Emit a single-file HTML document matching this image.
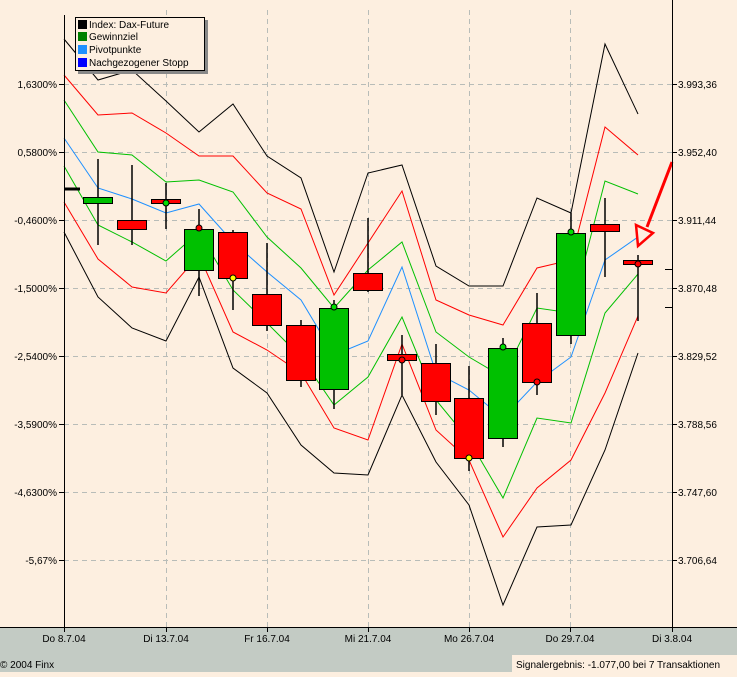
<!DOCTYPE html>
<html><head><meta charset="utf-8"><style>
body{margin:0;width:737px;height:672px;overflow:hidden;background:#fdefe0;font-family:"Liberation Sans",sans-serif}
</style></head><body>
<svg width="737" height="672" xmlns="http://www.w3.org/2000/svg" font-family="Liberation Sans, sans-serif" font-size="10">
<rect x="0" y="0" width="737" height="672" fill="#fdefe0"/>
<rect x="0" y="628" width="737" height="44" fill="#c3cbc4"/>
<g stroke="#b8bcb8" stroke-dasharray="5,4" stroke-width="1">
<line x1="64" x2="672" y1="84.5" y2="84.5"/><line x1="64" x2="672" y1="152.5" y2="152.5"/>
<line x1="64" x2="672" y1="220.5" y2="220.5"/><line x1="64" x2="672" y1="288.5" y2="288.5"/>
<line x1="64" x2="672" y1="356.5" y2="356.5"/><line x1="64" x2="672" y1="424.5" y2="424.5"/>
<line x1="64" x2="672" y1="492.5" y2="492.5"/><line x1="64" x2="672" y1="560.5" y2="560.5"/>
<line x1="166.5" x2="166.5" y1="10" y2="627"/><line x1="267.5" x2="267.5" y1="10" y2="627"/>
<line x1="368.5" x2="368.5" y1="10" y2="627"/><line x1="469.5" x2="469.5" y1="10" y2="627"/>
<line x1="570.5" x2="570.5" y1="10" y2="627"/>
</g>
<g fill="none" stroke-width="1">
<polyline stroke="#000" points="64,39 98,80 132,70 166,101 199,132 233,104 267,156 301,178 334,272 368,173 402,165 436,266 469,286 503,286 537,198 571,213 605,44 638,114"/>
<polyline stroke="#f00" points="64,75 98,115 132,113 166,133 199,156 233,156 267,193 301,209 334,295 368,243 402,191 436,300 469,315 503,325 537,268 571,260 605,127 638,155"/>
<polyline stroke="#00c000" points="64,100 98,152 132,155 166,182 199,180 233,192 267,237 301,268 334,308 368,270 402,242 436,332 469,357 503,377 537,308 571,313 605,181 638,194"/>
<polyline stroke="#1e90ff" points="64,138 98,188 132,199 166,213 199,204 233,242 267,272 301,300 334,355 368,341 402,267 436,373 469,390 503,418 537,382 571,357 605,260 638,237"/>
<polyline stroke="#00c000" points="64,166 98,225 132,242 166,261 199,232 233,290 267,323 301,357 334,405 368,377 402,317 436,400 469,440 503,498 537,418 571,423 605,313 638,274"/>
<polyline stroke="#f00" points="64,202 98,259 132,287 166,293 199,255 233,332 267,350 301,373 334,428 368,440 402,344 436,430 469,460 503,537 537,488 571,460 605,393 638,316"/>
<polyline stroke="#000" points="64,232 98,297 132,328 166,341 199,277 233,368 267,393 301,445 334,473 368,475 402,395 436,462 469,505 503,605 537,527 571,525 605,450 638,353"/>
</g>
<g stroke="#000" stroke-width="1.5">
<line x1="64" x2="80" y1="189" y2="189" stroke-width="3"/>
<line x1="98" x2="98" y1="159" y2="245"/><line x1="132" x2="132" y1="165" y2="245"/>
<line x1="166" x2="166" y1="183" y2="229"/><line x1="199" x2="199" y1="209" y2="296"/>
<line x1="233" x2="233" y1="230" y2="310"/><line x1="267" x2="267" y1="243" y2="331"/>
<line x1="301" x2="301" y1="320" y2="387"/><line x1="334" x2="334" y1="300" y2="409"/>
<line x1="368" x2="368" y1="218" y2="292"/><line x1="402" x2="402" y1="335" y2="395"/>
<line x1="436" x2="436" y1="344" y2="415"/><line x1="469" x2="469" y1="366" y2="471"/>
<line x1="503" x2="503" y1="338" y2="447"/><line x1="537" x2="537" y1="293" y2="395"/>
<line x1="571" x2="571" y1="213" y2="344"/><line x1="605" x2="605" y1="198" y2="277"/>
<line x1="638" x2="638" y1="255" y2="321"/>
</g>
<g stroke="#000" stroke-width="1">
<rect x="83.5" y="197.5" width="29" height="6" fill="#00c000"/>
<rect x="117.5" y="220.5" width="29" height="9" fill="#f00"/>
<rect x="151.5" y="199.5" width="29" height="4" fill="#f00"/>
<rect x="184.5" y="229.5" width="29" height="41" fill="#00c000"/>
<rect x="218.5" y="232.5" width="29" height="46" fill="#f00"/>
<rect x="252.5" y="294.5" width="29" height="31" fill="#f00"/>
<rect x="286.5" y="325.5" width="29" height="55" fill="#f00"/>
<rect x="319.5" y="308.5" width="29" height="81" fill="#00c000"/>
<rect x="353.5" y="273.5" width="29" height="17" fill="#f00"/>
<rect x="387.5" y="354.5" width="29" height="6" fill="#f00"/>
<rect x="421.5" y="363.5" width="29" height="38" fill="#f00"/>
<rect x="454.5" y="398.5" width="29" height="60" fill="#f00"/>
<rect x="488.5" y="348.5" width="29" height="90" fill="#00c000"/>
<rect x="522.5" y="323.5" width="29" height="59" fill="#f00"/>
<rect x="556.5" y="233.5" width="29" height="102" fill="#00c000"/>
<rect x="590.5" y="224.5" width="29" height="7" fill="#f00"/>
<rect x="623.5" y="260.5" width="29" height="4" fill="#f00"/>
<circle cx="166" cy="203" r="3" fill="#00e000"/>
<circle cx="199" cy="228" r="3" fill="#f00"/>
<circle cx="233" cy="278" r="3" fill="#ff0"/>
<circle cx="334" cy="307" r="3" fill="#00e000"/>
<circle cx="402" cy="360" r="3" fill="#f00"/>
<circle cx="469" cy="458" r="3" fill="#ff0"/>
<circle cx="503" cy="347" r="3" fill="#00e000"/>
<circle cx="537" cy="382" r="3" fill="#f00"/>
<circle cx="571" cy="232" r="3" fill="#00e000"/>
<circle cx="638" cy="264" r="3" fill="#f00"/>
</g>
<line x1="672" y1="162" x2="647" y2="227" stroke="#f00" stroke-width="3"/>
<polygon points="636,225 653,233 638,246" fill="none" stroke="#f00" stroke-width="2.5"/>
<line x1="64.5" y1="15" x2="64.5" y2="628" stroke="#000"/>
<line x1="672.5" y1="0" x2="672.5" y2="628" stroke="#000"/>
<line x1="0" y1="627.5" x2="737" y2="627.5" stroke="#000"/>
<g stroke="#000">
<line x1="59" x2="64" y1="84.5" y2="84.5"/><line x1="59" x2="64" y1="152.5" y2="152.5"/><line x1="59" x2="64" y1="220.5" y2="220.5"/><line x1="59" x2="64" y1="288.5" y2="288.5"/><line x1="59" x2="64" y1="356.5" y2="356.5"/><line x1="59" x2="64" y1="424.5" y2="424.5"/><line x1="59" x2="64" y1="492.5" y2="492.5"/><line x1="59" x2="64" y1="560.5" y2="560.5"/>
<line x1="672" x2="677" y1="84.5" y2="84.5"/><line x1="672" x2="677" y1="152.5" y2="152.5"/><line x1="672" x2="677" y1="220.5" y2="220.5"/><line x1="672" x2="677" y1="288.5" y2="288.5"/><line x1="672" x2="677" y1="356.5" y2="356.5"/><line x1="672" x2="677" y1="424.5" y2="424.5"/><line x1="672" x2="677" y1="492.5" y2="492.5"/><line x1="672" x2="677" y1="560.5" y2="560.5"/>
<line x1="665" x2="672" y1="269.5" y2="269.5"/><line x1="665" x2="672" y1="307.5" y2="307.5"/>
<line x1="64.5" x2="64.5" y1="628" y2="632"/><line x1="166.5" x2="166.5" y1="628" y2="632"/><line x1="267.5" x2="267.5" y1="628" y2="632"/><line x1="368.5" x2="368.5" y1="628" y2="632"/><line x1="469.5" x2="469.5" y1="628" y2="632"/><line x1="570.5" x2="570.5" y1="628" y2="632"/><line x1="672.5" x2="672.5" y1="628" y2="632"/>
</g>
<g text-anchor="end" fill="#000">
<text x="57" y="88">1,6300%</text><text x="57" y="156">0,5800%</text><text x="57" y="224">-0,4600%</text><text x="57" y="292">-1,5000%</text><text x="57" y="360">-2,5400%</text><text x="57" y="428">-3,5900%</text><text x="57" y="496">-4,6300%</text><text x="57" y="564">-5,67%</text>
</g>
<g fill="#000">
<text x="678" y="88">3.993,36</text><text x="678" y="156">3.952,40</text><text x="678" y="224">3.911,44</text><text x="678" y="292">3.870,48</text><text x="678" y="360">3.829,52</text><text x="678" y="428">3.788,56</text><text x="678" y="496">3.747,60</text><text x="678" y="564">3.706,64</text>
</g>
<g text-anchor="middle" fill="#000">
<text x="64" y="642">Do 8.7.04</text><text x="166" y="642">Di 13.7.04</text><text x="267" y="642">Fr 16.7.04</text><text x="368" y="642">Mi 21.7.04</text><text x="469" y="642">Mo 26.7.04</text><text x="570" y="642">Do 29.7.04</text><text x="672" y="642">Di 3.8.04</text>
</g>
<text x="0" y="668" fill="#000">© 2004 Finx</text>
<rect x="512" y="655" width="225" height="17" fill="#fdefe0"/>
<text x="516" y="668" fill="#000">Signalergebnis: -1.077,00 bei 7 Transaktionen</text>
<rect x="78" y="20" width="130" height="54" fill="#888"/>
<rect x="75.5" y="17.5" width="129" height="53" fill="#fdefe0" stroke="#000"/>
<rect x="78" y="20" width="9" height="9" fill="#000"/><text x="89" y="28">Index: Dax-Future</text>
<rect x="78" y="32" width="9" height="9" fill="#008000"/><text x="89" y="40">Gewinnziel</text>
<rect x="78" y="45" width="9" height="9" fill="#1e90ff"/><text x="89" y="53">Pivotpunkte</text>
<rect x="78" y="58" width="9" height="9" fill="#0000ff"/><text x="89" y="66">Nachgezogener Stopp</text>
</svg>
</body></html>
